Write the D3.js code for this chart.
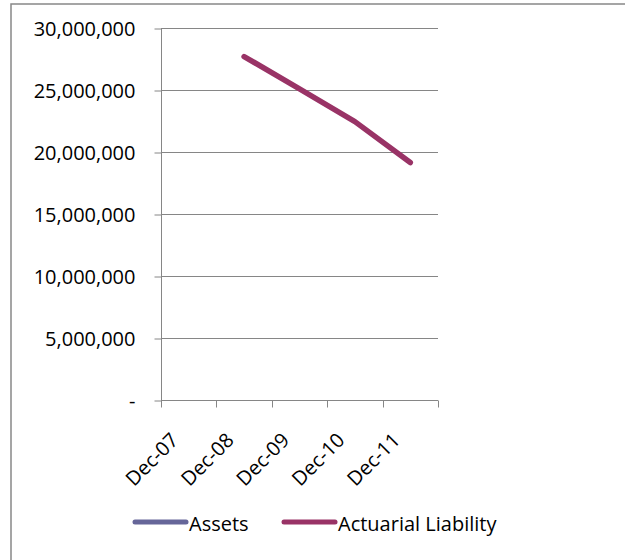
<!DOCTYPE html>
<html>
<head>
<meta charset="utf-8">
<script src="https://cdn.jsdelivr.net/npm/d3@7"></script>
<style>
  html, body { margin: 0; padding: 0; background: #fff; }
  svg { display: block; }
  text { font-family: "Open Sans", "Lato", sans-serif; fill: #000; }
</style>
</head>
<body>
<svg id="chart" width="625" height="560"></svg>
<script>
// ---- data ----
const categories = ["Dec-07", "Dec-08", "Dec-09", "Dec-10", "Dec-11"];
const assets = [null, null, null, null, null];
const actuarialLiability = [null, 27700000, 25100000, 22450000, 19150000];
const yTicks = [0, 5000000, 10000000, 15000000, 20000000, 25000000, 30000000];
const seriesNames = ["Assets", "Actuarial Liability"];
const seriesColors = ["#666699", "#993366"];

const svg = d3.select("#chart");
const fontSize = 20;

// chart frame (extends beyond the visible picture)
svg.append("rect")
  .attr("x", 11).attr("y", 4)
  .attr("width", 700).attr("height", 700)
  .attr("fill", "#fff").attr("stroke", "#888").attr("stroke-width", 1.5);

const plot = { left: 161, right: 438, top: 28, bottom: 400 };

const x = d3.scaleBand().domain(categories).range([plot.left, plot.right]).padding(0);
const y = d3.scaleLinear().domain([0, 30000000]).range([plot.bottom, plot.top]);

// gridlines
svg.append("g").selectAll("line").data(yTicks.filter(d => d > 0)).join("line")
  .attr("x1", plot.left).attr("x2", plot.right)
  .attr("y1", d => Math.round(y(d)) + 0.5).attr("y2", d => Math.round(y(d)) + 0.5)
  .attr("stroke", "#868686").attr("stroke-width", 1);

// y axis
const fmt = d3.format(",");
const yAxis = d3.axisLeft(y).tickValues(yTicks).tickSize(7).tickPadding(19)
  .tickFormat(d => d === 0 ? "-" : fmt(d));
const gy = svg.append("g").attr("transform", `translate(${plot.left + 0.5},0.5)`).call(yAxis);
gy.select(".domain").attr("stroke", "#868686").attr("d", `M0,${plot.top}V${plot.bottom}`);
gy.selectAll(".tick line").attr("stroke", "#868686");
gy.selectAll(".tick text").style("font-size", fontSize + "px").attr("fill", "#000")
  .style("font-family", '"Open Sans", sans-serif').attr("dy", "0.36em");

// x axis (ticks between categories)
const gx = svg.append("g").attr("transform", `translate(0,${plot.bottom + 0.5})`);
const bounds = categories.map(c => x(c)).concat([plot.right]);
gx.append("line").attr("x1", plot.left).attr("x2", plot.right).attr("y1", 0).attr("y2", 0)
  .attr("stroke", "#868686");
gx.selectAll("line.tk").data(bounds).join("line").attr("class", "tk")
  .attr("x1", d => Math.round(d) + 0.5).attr("x2", d => Math.round(d) + 0.5)
  .attr("y1", 0).attr("y2", 7).attr("stroke", "#868686");
gx.selectAll("text").data(categories).join("text")
  .attr("transform", d => `translate(${x(d) + x.bandwidth() / 2 - 9},${41}) rotate(-45)`)
  .attr("text-anchor", "end")
  .style("font-size", fontSize + "px")
  .text(d => d);

// lines
const line = d3.line()
  .defined(d => d.v != null)
  .x(d => x(d.c) + x.bandwidth() / 2)
  .y(d => y(d.v));

[assets, actuarialLiability].forEach((vals, i) => {
  const pts = categories.map((c, j) => ({ c, v: vals[j] }));
  svg.append("path").datum(pts)
    .attr("d", line)
    .attr("fill", "none")
    .attr("stroke", seriesColors[i])
    .attr("stroke-width", 5.5)
    .attr("stroke-linecap", "round")
    .attr("stroke-linejoin", "round");
});

// legend
const legendItems = [
  { name: seriesNames[0], color: seriesColors[0], x: 135 },
  { name: seriesNames[1], color: seriesColors[1], x: 284 }
];
const lg = svg.append("g");
legendItems.forEach(it => {
  lg.append("line").attr("x1", it.x).attr("x2", it.x + 51).attr("y1", 522).attr("y2", 522)
    .attr("stroke", it.color).attr("stroke-width", 5).attr("stroke-linecap", "round");
  lg.append("text").attr("x", it.x + 54).attr("y", 531).style("font-size", fontSize + "px")
    .text(it.name);
});
</script>
</body>
</html>
